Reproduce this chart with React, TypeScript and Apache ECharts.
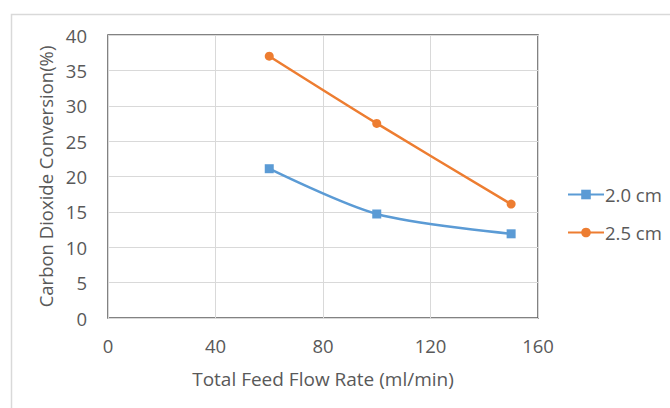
import React, { useEffect, useRef } from "react";
import * as echarts from "echarts";

const flowRates = [60, 100, 150];
const series20 = [21.1, 14.7, 11.9];
const series25 = [37.0, 27.5, 16.1];
const seriesNames = ["2.0 cm", "2.5 cm"];
const xTicks = { min: 0, max: 160, interval: 40 };
const yTicks = { min: 0, max: 40, interval: 5 };

const FONT = "'Open Sans', 'Noto Sans', sans-serif";
const TEXT = "#595959";

export default function App() {
  const ref = useRef<HTMLDivElement>(null);
  useEffect(() => {
    if (!ref.current) return;
    const chart = echarts.init(ref.current, undefined, { renderer: "svg" });
    chart.setOption({
      animation: false,
      backgroundColor: "#ffffff",
      textStyle: { fontFamily: FONT },
      graphic: [
        {
          type: "rect",
          left: 9,
          top: 12,
          shape: { width: 700, height: 500 },
          style: { fill: "none", stroke: "#d9d9d9", lineWidth: 1.5 },
          silent: true,
        },
      ],
      grid: {
        left: 108,
        top: 35,
        right: 132,
        bottom: 90,
        show: true,
        borderColor: "#595959",
        borderWidth: 1.5,
        backgroundColor: "transparent",
      },
      legend: {
        orient: "vertical",
        left: 562,
        top: 180,
        itemWidth: 36,
        itemHeight: 12,
        itemGap: 19,
        textStyle: { color: TEXT, fontSize: 18.5, fontFamily: FONT, padding: [0, 0, 0, -4] },
        data: [seriesNames[0], seriesNames[1]],
      },
      xAxis: {
        type: "value",
        min: xTicks.min,
        max: xTicks.max,
        interval: xTicks.interval,
        name: "Total Feed Flow Rate (ml/min)",
        nameLocation: "middle",
        nameGap: 51,
        nameTextStyle: { color: TEXT, fontSize: 19, fontFamily: FONT },
        axisLine: { show: false },
        axisTick: { show: false },
        axisLabel: { color: TEXT, fontSize: 18.5, fontFamily: FONT, margin: 18 },
        splitLine: { show: true, lineStyle: { color: "#d9d9d9", width: 1 } },
      },
      yAxis: {
        type: "value",
        min: yTicks.min,
        max: yTicks.max,
        interval: yTicks.interval,
        name: "Carbon Dioxide Conversion(%)",
        nameLocation: "middle",
        nameGap: 52,
        nameTextStyle: { color: TEXT, fontSize: 18.5, fontFamily: FONT },
        axisLine: { show: false },
        axisTick: { show: false },
        axisLabel: { color: TEXT, fontSize: 18.5, fontFamily: FONT, margin: 21 },
        splitLine: { show: true, lineStyle: { color: "#d9d9d9", width: 1 } },
      },
      series: [
        {
          name: seriesNames[0],
          type: "line",
          data: flowRates.map((x, i) => [x, series20[i]]),
          smooth: 0.3,
          symbol: "rect",
          symbolSize: 9,
          color: "#5b9bd5",
          lineStyle: { width: 2.5, color: "#5b9bd5" },
          itemStyle: { color: "#5b9bd5" },
        },
        {
          name: seriesNames[1],
          type: "line",
          data: flowRates.map((x, i) => [x, series25[i]]),
          smooth: 0.3,
          symbol: "circle",
          symbolSize: 9,
          color: "#ed7d31",
          lineStyle: { width: 2.5, color: "#ed7d31" },
          itemStyle: { color: "#ed7d31" },
        },
      ],
    });
    return () => chart.dispose();
  }, []);
  return <div ref={ref} style={{ width: 670, height: 408, position: "absolute", left: 0, top: 0 }} />;
}
